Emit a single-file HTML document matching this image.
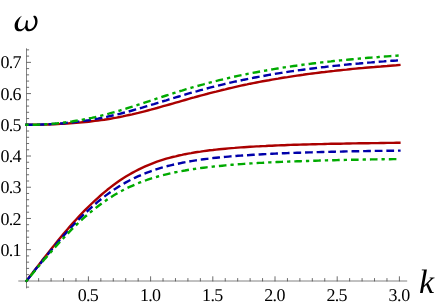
<!DOCTYPE html>
<html><head><meta charset="utf-8"><title>plot</title>
<style>
html,body{margin:0;padding:0;background:#fff;}
svg{display:block;font-family:"Liberation Serif",serif;will-change:transform;transform:translateZ(0);}
text{text-rendering:geometricPrecision;}
.t{letter-spacing:-0.7px;}
</style></head><body>
<svg width="436" height="305" viewBox="0 0 436 305">
<rect width="436" height="305" fill="#fff"/>
<g><path d="M26.5 48.3 V288.4 M18.3 281.0 H407.2" stroke="#5a5a5a" stroke-width="0.75" fill="none"/><path d="M26.5 287.14 h2.6 M26.5 274.66 h2.6 M26.5 268.41 h2.6 M26.5 262.17 h2.6 M26.5 255.92 h2.6 M26.5 249.68 h4.5 M26.5 243.44 h2.6 M26.5 237.19 h2.6 M26.5 230.95 h2.6 M26.5 224.70 h2.6 M26.5 218.46 h4.5 M26.5 212.22 h2.6 M26.5 205.97 h2.6 M26.5 199.73 h2.6 M26.5 193.48 h2.6 M26.5 187.24 h4.5 M26.5 181.00 h2.6 M26.5 174.75 h2.6 M26.5 168.51 h2.6 M26.5 162.26 h2.6 M26.5 156.02 h4.5 M26.5 149.78 h2.6 M26.5 143.53 h2.6 M26.5 137.29 h2.6 M26.5 131.04 h2.6 M26.5 124.80 h4.5 M26.5 118.56 h2.6 M26.5 112.31 h2.6 M26.5 106.07 h2.6 M26.5 99.82 h2.6 M26.5 93.58 h4.5 M26.5 87.34 h2.6 M26.5 81.09 h2.6 M26.5 74.85 h2.6 M26.5 68.60 h2.6 M26.5 62.36 h4.5 M26.5 56.12 h2.6 M26.5 49.87 h2.6 M38.64 281.4 v-3.3 M51.08 281.4 v-3.3 M63.52 281.4 v-3.3 M75.96 281.4 v-3.3 M88.40 281.4 v-5.1 M100.84 281.4 v-3.3 M113.28 281.4 v-3.3 M125.72 281.4 v-3.3 M138.16 281.4 v-3.3 M150.60 281.4 v-5.1 M163.04 281.4 v-3.3 M175.48 281.4 v-3.3 M187.92 281.4 v-3.3 M200.36 281.4 v-3.3 M212.80 281.4 v-5.1 M225.24 281.4 v-3.3 M237.68 281.4 v-3.3 M250.12 281.4 v-3.3 M262.56 281.4 v-3.3 M275.00 281.4 v-5.1 M287.44 281.4 v-3.3 M299.88 281.4 v-3.3 M312.32 281.4 v-3.3 M324.76 281.4 v-3.3 M337.20 281.4 v-5.1 M349.64 281.4 v-3.3 M362.08 281.4 v-3.3 M374.52 281.4 v-3.3 M386.96 281.4 v-3.3 M399.40 281.4 v-5.1" stroke="#484848" stroke-width="0.8" fill="none"/></g>
<g stroke-linecap="square" stroke-linejoin="round">
<path d="M26.5 124.8 L29.6 124.8 L32.7 124.8 L35.8 124.7 L38.9 124.7 L42.0 124.6 L45.1 124.5 L48.3 124.5 L51.4 124.3 L54.5 124.2 L57.6 124.1 L60.7 123.9 L63.8 123.7 L66.9 123.6 L70.0 123.3 L73.1 123.1 L76.2 122.9 L79.3 122.6 L82.4 122.3 L85.5 122.0 L88.7 121.7 L91.8 121.3 L94.9 120.9 L98.0 120.5 L101.1 120.1 L104.2 119.7 L107.3 119.2 L110.4 118.7 L113.5 118.1 L116.6 117.6 L119.7 117.0 L122.8 116.4 L125.9 115.7 L129.0 115.0 L132.2 114.4 L135.3 113.6 L138.4 112.9 L141.5 112.1 L144.6 111.3 L147.7 110.5 L150.8 109.7 L153.9 108.8 L157.0 108.0 L160.1 107.1 L163.2 106.2 L166.3 105.3 L169.4 104.5 L172.6 103.6 L175.7 102.7 L178.8 101.8 L181.9 100.9 L185.0 100.0 L188.1 99.1 L191.2 98.2 L194.3 97.4 L197.4 96.5 L200.5 95.6 L203.6 94.8 L206.7 94.0 L209.8 93.1 L212.9 92.3 L216.1 91.6 L219.2 90.8 L222.3 90.0 L225.4 89.3 L228.5 88.5 L231.6 87.8 L234.7 87.1 L237.8 86.4 L240.9 85.7 L244.0 85.0 L247.1 84.4 L250.2 83.7 L253.3 83.1 L256.5 82.5 L259.6 81.9 L262.7 81.3 L265.8 80.7 L268.9 80.2 L272.0 79.6 L275.1 79.1 L278.2 78.6 L281.3 78.0 L284.4 77.5 L287.5 77.1 L290.6 76.6 L293.7 76.1 L296.9 75.6 L300.0 75.2 L303.1 74.8 L306.2 74.3 L309.3 73.9 L312.4 73.5 L315.5 73.1 L318.6 72.7 L321.7 72.3 L324.8 72.0 L327.9 71.6 L331.0 71.2 L334.1 70.9 L337.2 70.5 L340.4 70.2 L343.5 69.9 L346.6 69.6 L349.7 69.2 L352.8 68.9 L355.9 68.6 L359.0 68.3 L362.1 68.1 L365.2 67.8 L368.3 67.5 L371.4 67.2 L374.5 67.0 L377.6 66.7 L380.8 66.5 L383.9 66.2 L387.0 66.0 L390.1 65.7 L393.2 65.5 L396.3 65.3 L399.4 65.0" fill="none" stroke="#aa0000" stroke-width="2.4" />
<path d="M26.5 280.9 L29.6 276.8 L32.7 272.8 L35.8 268.7 L38.9 264.7 L42.0 260.6 L45.1 256.7 L48.3 252.7 L51.4 248.8 L54.5 244.9 L57.6 241.1 L60.7 237.3 L63.8 233.6 L66.9 230.0 L70.0 226.4 L73.1 222.9 L76.2 219.5 L79.3 216.1 L82.4 212.8 L85.5 209.6 L88.7 206.5 L91.8 203.5 L94.9 200.6 L98.0 197.8 L101.1 195.0 L104.2 192.4 L107.3 189.8 L110.4 187.4 L113.5 185.0 L116.6 182.8 L119.7 180.6 L122.8 178.5 L125.9 176.6 L129.0 174.7 L132.2 172.9 L135.3 171.2 L138.4 169.6 L141.5 168.1 L144.6 166.7 L147.7 165.3 L150.8 164.1 L153.9 162.9 L157.0 161.7 L160.1 160.7 L163.2 159.7 L166.3 158.7 L169.4 157.9 L172.6 157.0 L175.7 156.3 L178.8 155.5 L181.9 154.9 L185.0 154.2 L188.1 153.6 L191.2 153.1 L194.3 152.5 L197.4 152.0 L200.5 151.6 L203.6 151.1 L206.7 150.7 L209.8 150.3 L212.9 150.0 L216.1 149.6 L219.2 149.3 L222.3 149.0 L225.4 148.7 L228.5 148.4 L231.6 148.1 L234.7 147.9 L237.8 147.6 L240.9 147.4 L244.0 147.2 L247.1 147.0 L250.2 146.8 L253.3 146.6 L256.5 146.4 L259.6 146.3 L262.7 146.1 L265.8 146.0 L268.9 145.8 L272.0 145.7 L275.1 145.5 L278.2 145.4 L281.3 145.3 L284.4 145.2 L287.5 145.0 L290.6 144.9 L293.7 144.8 L296.9 144.7 L300.0 144.6 L303.1 144.5 L306.2 144.5 L309.3 144.4 L312.4 144.3 L315.5 144.2 L318.6 144.1 L321.7 144.1 L324.8 144.0 L327.9 143.9 L331.0 143.8 L334.1 143.8 L337.2 143.7 L340.4 143.7 L343.5 143.6 L346.6 143.5 L349.7 143.5 L352.8 143.4 L355.9 143.4 L359.0 143.3 L362.1 143.3 L365.2 143.2 L368.3 143.2 L371.4 143.1 L374.5 143.1 L377.6 143.1 L380.8 143.0 L383.9 143.0 L387.0 142.9 L390.1 142.9 L393.2 142.9 L396.3 142.8 L399.4 142.8" fill="none" stroke="#aa0000" stroke-width="2.4" />
<path d="M26.5 124.8 L29.6 124.8 L32.7 124.8 L35.8 124.7 L38.9 124.6 L42.0 124.5 L45.1 124.4 L48.3 124.3 L51.4 124.1 L54.5 123.9 L57.6 123.7 L60.7 123.5 L63.8 123.2 L66.9 122.9 L70.0 122.6 L73.1 122.3 L76.2 121.9 L79.3 121.5 L82.4 121.1 L85.5 120.6 L88.7 120.2 L91.8 119.7 L94.9 119.1 L98.0 118.6 L101.1 118.0 L104.2 117.3 L107.3 116.7 L110.4 116.0 L113.5 115.3 L116.6 114.6 L119.7 113.8 L122.8 113.0 L125.9 112.2 L129.0 111.4 L132.2 110.5 L135.3 109.6 L138.4 108.7 L141.5 107.8 L144.6 106.9 L147.7 106.0 L150.8 105.0 L153.9 104.1 L157.0 103.1 L160.1 102.2 L163.2 101.2 L166.3 100.3 L169.4 99.3 L172.6 98.4 L175.7 97.4 L178.8 96.5 L181.9 95.6 L185.0 94.6 L188.1 93.7 L191.2 92.8 L194.3 91.9 L197.4 91.1 L200.5 90.2 L203.6 89.4 L206.7 88.5 L209.8 87.7 L212.9 86.9 L216.1 86.1 L219.2 85.4 L222.3 84.6 L225.4 83.8 L228.5 83.1 L231.6 82.4 L234.7 81.7 L237.8 81.0 L240.9 80.4 L244.0 79.7 L247.1 79.1 L250.2 78.4 L253.3 77.8 L256.5 77.2 L259.6 76.6 L262.7 76.1 L265.8 75.5 L268.9 74.9 L272.0 74.4 L275.1 73.9 L278.2 73.4 L281.3 72.9 L284.4 72.4 L287.5 71.9 L290.6 71.4 L293.7 71.0 L296.9 70.5 L300.0 70.1 L303.1 69.7 L306.2 69.3 L309.3 68.9 L312.4 68.5 L315.5 68.1 L318.6 67.7 L321.7 67.3 L324.8 67.0 L327.9 66.6 L331.0 66.3 L334.1 65.9 L337.2 65.6 L340.4 65.3 L343.5 64.9 L346.6 64.6 L349.7 64.3 L352.8 64.0 L355.9 63.7 L359.0 63.5 L362.1 63.2 L365.2 62.9 L368.3 62.6 L371.4 62.4 L374.5 62.1 L377.6 61.9 L380.8 61.6 L383.9 61.4 L387.0 61.1 L390.1 60.9 L393.2 60.7 L396.3 60.5 L399.4 60.2" fill="none" stroke="#0000aa" stroke-width="2.4" stroke-dasharray="5.35 6.27"/>
<path d="M26.5 280.9 L29.6 277.0 L32.7 273.0 L35.8 269.1 L38.9 265.2 L42.0 261.4 L45.1 257.5 L48.3 253.7 L51.4 250.0 L54.5 246.3 L57.6 242.6 L60.7 239.0 L63.8 235.5 L66.9 232.0 L70.0 228.6 L73.1 225.3 L76.2 222.0 L79.3 218.8 L82.4 215.8 L85.5 212.8 L88.7 209.9 L91.8 207.0 L94.9 204.3 L98.0 201.7 L101.1 199.2 L104.2 196.7 L107.3 194.4 L110.4 192.2 L113.5 190.0 L116.6 188.0 L119.7 186.0 L122.8 184.2 L125.9 182.4 L129.0 180.7 L132.2 179.1 L135.3 177.6 L138.4 176.2 L141.5 174.8 L144.6 173.5 L147.7 172.3 L150.8 171.2 L153.9 170.1 L157.0 169.1 L160.1 168.1 L163.2 167.2 L166.3 166.4 L169.4 165.6 L172.6 164.8 L175.7 164.1 L178.8 163.5 L181.9 162.8 L185.0 162.2 L188.1 161.7 L191.2 161.1 L194.3 160.6 L197.4 160.2 L200.5 159.7 L203.6 159.3 L206.7 158.9 L209.8 158.5 L212.9 158.1 L216.1 157.8 L219.2 157.5 L222.3 157.2 L225.4 156.9 L228.5 156.6 L231.6 156.3 L234.7 156.1 L237.8 155.8 L240.9 155.6 L244.0 155.4 L247.1 155.2 L250.2 155.0 L253.3 154.8 L256.5 154.6 L259.6 154.4 L262.7 154.2 L265.8 154.1 L268.9 153.9 L272.0 153.8 L275.1 153.6 L278.2 153.5 L281.3 153.3 L284.4 153.2 L287.5 153.1 L290.6 153.0 L293.7 152.9 L296.9 152.8 L300.0 152.7 L303.1 152.6 L306.2 152.5 L309.3 152.4 L312.4 152.3 L315.5 152.2 L318.6 152.1 L321.7 152.0 L324.8 151.9 L327.9 151.9 L331.0 151.8 L334.1 151.7 L337.2 151.6 L340.4 151.6 L343.5 151.5 L346.6 151.4 L349.7 151.4 L352.8 151.3 L355.9 151.3 L359.0 151.2 L362.1 151.2 L365.2 151.1 L368.3 151.0 L371.4 151.0 L374.5 150.9 L377.6 150.9 L380.8 150.9 L383.9 150.8 L387.0 150.8 L390.1 150.7 L393.2 150.7 L396.3 150.6 L399.4 150.6" fill="none" stroke="#0000aa" stroke-width="2.4" stroke-dasharray="5.35 6.27"/>
<path d="M26.5 124.8 L29.6 124.8 L32.7 124.7 L35.8 124.7 L38.9 124.6 L42.0 124.4 L45.1 124.3 L48.3 124.1 L51.4 123.8 L54.5 123.6 L57.6 123.3 L60.7 122.9 L63.8 122.6 L66.9 122.2 L70.0 121.8 L73.1 121.3 L76.2 120.8 L79.3 120.3 L82.4 119.7 L85.5 119.1 L88.7 118.5 L91.8 117.9 L94.9 117.2 L98.0 116.4 L101.1 115.7 L104.2 114.9 L107.3 114.1 L110.4 113.2 L113.5 112.4 L116.6 111.5 L119.7 110.6 L122.8 109.6 L125.9 108.7 L129.0 107.7 L132.2 106.7 L135.3 105.7 L138.4 104.7 L141.5 103.7 L144.6 102.6 L147.7 101.6 L150.8 100.6 L153.9 99.6 L157.0 98.5 L160.1 97.5 L163.2 96.5 L166.3 95.5 L169.4 94.5 L172.6 93.5 L175.7 92.5 L178.8 91.5 L181.9 90.6 L185.0 89.6 L188.1 88.7 L191.2 87.8 L194.3 86.9 L197.4 86.0 L200.5 85.1 L203.6 84.3 L206.7 83.4 L209.8 82.6 L212.9 81.8 L216.1 81.0 L219.2 80.2 L222.3 79.5 L225.4 78.7 L228.5 78.0 L231.6 77.3 L234.7 76.6 L237.8 75.9 L240.9 75.3 L244.0 74.6 L247.1 74.0 L250.2 73.4 L253.3 72.8 L256.5 72.2 L259.6 71.6 L262.7 71.0 L265.8 70.5 L268.9 69.9 L272.0 69.4 L275.1 68.9 L278.2 68.4 L281.3 67.9 L284.4 67.4 L287.5 66.9 L290.6 66.5 L293.7 66.0 L296.9 65.6 L300.0 65.2 L303.1 64.7 L306.2 64.3 L309.3 63.9 L312.4 63.5 L315.5 63.2 L318.6 62.8 L321.7 62.4 L324.8 62.1 L327.9 61.7 L331.0 61.4 L334.1 61.0 L337.2 60.7 L340.4 60.4 L343.5 60.1 L346.6 59.8 L349.7 59.5 L352.8 59.2 L355.9 58.9 L359.0 58.6 L362.1 58.4 L365.2 58.1 L368.3 57.8 L371.4 57.6 L374.5 57.3 L377.6 57.1 L380.8 56.8 L383.9 56.6 L387.0 56.4 L390.1 56.1 L393.2 55.9 L396.3 55.7 L399.4 55.5" fill="none" stroke="#00aa00" stroke-width="2.4" stroke-dasharray="0.9 6.4 5.2 6.4"/>
<path d="M26.5 280.9 L29.6 277.1 L32.7 273.4 L35.8 269.7 L38.9 265.9 L42.0 262.3 L45.1 258.6 L48.3 255.0 L51.4 251.4 L54.5 247.9 L57.6 244.4 L60.7 241.0 L63.8 237.7 L66.9 234.4 L70.0 231.2 L73.1 228.0 L76.2 225.0 L79.3 222.0 L82.4 219.2 L85.5 216.4 L88.7 213.7 L91.8 211.1 L94.9 208.6 L98.0 206.2 L101.1 203.9 L104.2 201.7 L107.3 199.5 L110.4 197.5 L113.5 195.6 L116.6 193.7 L119.7 192.0 L122.8 190.3 L125.9 188.7 L129.0 187.2 L132.2 185.8 L135.3 184.4 L138.4 183.1 L141.5 181.9 L144.6 180.8 L147.7 179.7 L150.8 178.6 L153.9 177.7 L157.0 176.8 L160.1 175.9 L163.2 175.1 L166.3 174.3 L169.4 173.6 L172.6 172.9 L175.7 172.2 L178.8 171.6 L181.9 171.0 L185.0 170.5 L188.1 169.9 L191.2 169.4 L194.3 169.0 L197.4 168.5 L200.5 168.1 L203.6 167.7 L206.7 167.3 L209.8 167.0 L212.9 166.6 L216.1 166.3 L219.2 166.0 L222.3 165.7 L225.4 165.4 L228.5 165.1 L231.6 164.8 L234.7 164.6 L237.8 164.3 L240.9 164.1 L244.0 163.9 L247.1 163.7 L250.2 163.5 L253.3 163.3 L256.5 163.1 L259.6 162.9 L262.7 162.8 L265.8 162.6 L268.9 162.4 L272.0 162.3 L275.1 162.1 L278.2 162.0 L281.3 161.9 L284.4 161.7 L287.5 161.6 L290.6 161.5 L293.7 161.4 L296.9 161.3 L300.0 161.2 L303.1 161.1 L306.2 161.0 L309.3 160.9 L312.4 160.8 L315.5 160.7 L318.6 160.6 L321.7 160.5 L324.8 160.4 L327.9 160.3 L331.0 160.3 L334.1 160.2 L337.2 160.1 L340.4 160.0 L343.5 160.0 L346.6 159.9 L349.7 159.8 L352.8 159.8 L355.9 159.7 L359.0 159.7 L362.1 159.6 L365.2 159.5 L368.3 159.5 L371.4 159.4 L374.5 159.4 L377.6 159.3 L380.8 159.3 L383.9 159.2 L387.0 159.2 L390.1 159.2 L393.2 159.1 L396.3 159.1 L399.4 159.0" fill="none" stroke="#00aa00" stroke-width="2.4" stroke-dasharray="0.9 6.4 5.2 6.4"/>
</g>
<g fill="#000"><text class="t" x="20.9" y="255.76" text-anchor="end" font-size="18">0.1</text><text class="t" x="20.9" y="224.54" text-anchor="end" font-size="18">0.2</text><text class="t" x="20.9" y="193.32" text-anchor="end" font-size="18">0.3</text><text class="t" x="20.9" y="162.10" text-anchor="end" font-size="18">0.4</text><text class="t" x="20.9" y="130.88" text-anchor="end" font-size="18">0.5</text><text class="t" x="20.9" y="99.66" text-anchor="end" font-size="18">0.6</text><text class="t" x="20.9" y="68.44" text-anchor="end" font-size="18">0.7</text><text class="t" x="87.90" y="301.1" text-anchor="middle" font-size="18">0.5</text><text class="t" x="150.10" y="301.1" text-anchor="middle" font-size="18">1.0</text><text class="t" x="212.30" y="301.1" text-anchor="middle" font-size="18">1.5</text><text class="t" x="274.50" y="301.1" text-anchor="middle" font-size="18">2.0</text><text class="t" x="336.70" y="301.1" text-anchor="middle" font-size="18">2.5</text><text class="t" x="399.20" y="301.1" text-anchor="middle" font-size="18" style="letter-spacing:-0.3px">3.0</text><text x="419.1" y="292.9" font-size="34" font-style="italic">k</text><path transform="translate(8,8) scale(0.08257)" d="M170,95 C128,112 80,165 80,215 C80,258 102,283 136,283 C168,283 192,262 206,238 C210,266 228,283 256,283 C310,283 358,225 358,165 C358,125 345,95 320,95 C308,95 304,101 309,110 C322,125 329,145 329,168 C329,215 297,258 264,258 C244,258 238,240 238,222 C235,200 238,178 243,153 L221,149 C216,172 213,192 209,214 C200,240 175,258 152,258 C128,258 120,238 120,212 C120,170 140,125 170,95 Z"/></g>
</svg>
</body></html>
